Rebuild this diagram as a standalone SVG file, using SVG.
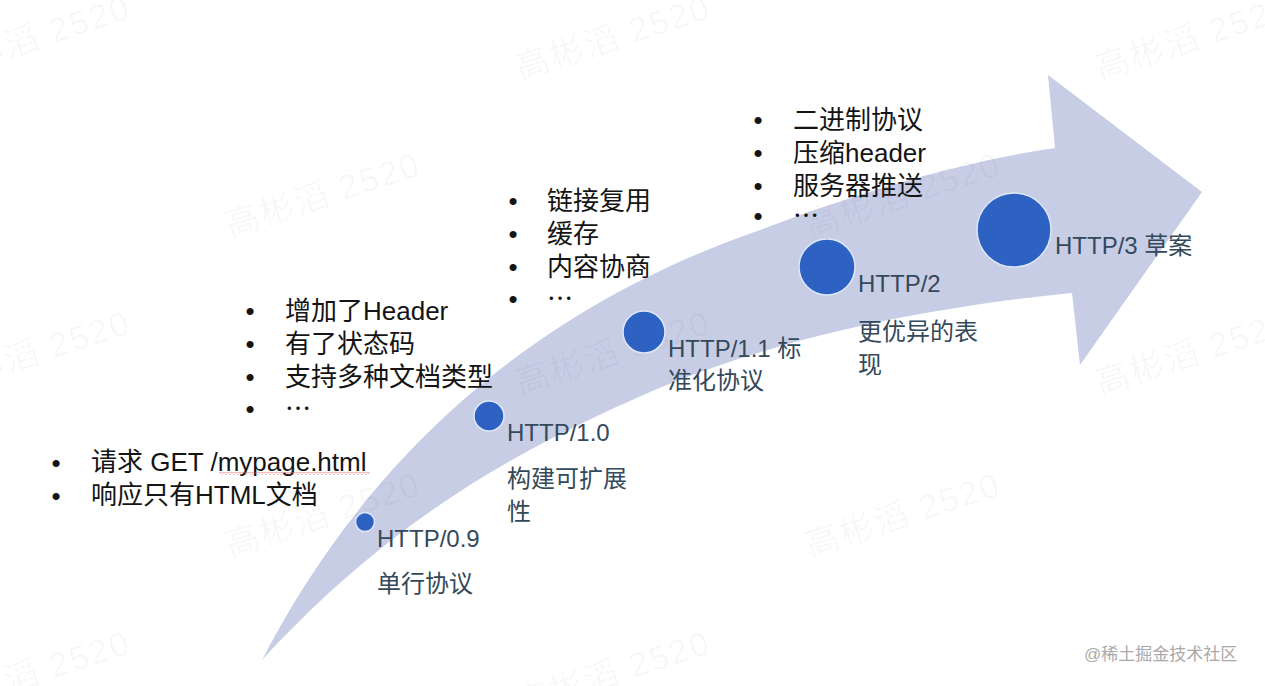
<svg xmlns="http://www.w3.org/2000/svg" width="1265" height="686" viewBox="0 0 1265 686">
  <defs>
    <style>
      text { font-family: "Liberation Sans", "Noto Sans CJK SC", sans-serif; }
      .wm { font-size: 34px; fill: #000; fill-opacity: 0.035; letter-spacing: 2px; }
      .lbl { font-size: 24px; fill: #34495a; }
      .li { font-size: 26px; fill: #141414; }
      .bul { font-size: 26px; fill: #141414; text-anchor: middle; }
      .dot { fill: #2e62c2; stroke: #dce8f8; stroke-width: 1.5; }
      .band { fill: #c8cde6; }
      .credit { font-size: 17px; fill: #a9a9a9; }
    </style>
    <pattern id="squig" width="4" height="3" patternUnits="userSpaceOnUse">
      <path d="M0 2.5 L2 0.5 L4 2.5" fill="none" stroke="#e05a5a" stroke-width="0.8"/>
    </pattern>
  </defs>
  <rect width="1265" height="686" fill="#ffffff"/>

  <g id="connectors">
    <path class="band" d="M262 660 C350 490 500 320 760 230 C860 192 960 162 1055 148 L1048 75 L1202 192 L1080 365 L1072 293 C900 310 760 345 650 392 C530 445 400 510 262 660 Z"/>
  </g>

  <g id="watermarks">
    <text class="wm" transform="translate(-60 80) rotate(-18)">高彬滔 2520</text>
    <text class="wm" transform="translate(520 80) rotate(-18)">高彬滔 2520</text>
    <text class="wm" transform="translate(1100 80) rotate(-18)">高彬滔 2520</text>
    <text class="wm" transform="translate(230 237) rotate(-18)">高彬滔 2520</text>
    <text class="wm" transform="translate(810 237) rotate(-18)">高彬滔 2520</text>
    <text class="wm" transform="translate(-60 395) rotate(-18)">高彬滔 2520</text>
    <text class="wm" transform="translate(520 395) rotate(-18)">高彬滔 2520</text>
    <text class="wm" transform="translate(1100 395) rotate(-18)">高彬滔 2520</text>
    <text class="wm" transform="translate(230 557) rotate(-18)">高彬滔 2520</text>
    <text class="wm" transform="translate(810 557) rotate(-18)">高彬滔 2520</text>
    <text class="wm" transform="translate(-60 715) rotate(-18)">高彬滔 2520</text>
    <text class="wm" transform="translate(520 715) rotate(-18)">高彬滔 2520</text>
  </g>

  <g id="node-http09">
    <circle class="dot" cx="365" cy="522" r="9.5"/>
    <text class="lbl" x="377" y="547">HTTP/0.9</text>
    <text class="lbl" x="377" y="592">单行协议</text>
    <text class="bul" x="56" y="472">•</text>
    <text class="li" x="91" y="471">请求 GET /mypage.html</text>
    <rect x="219" y="472" width="151" height="3" fill="url(#squig)"/>
    <text class="bul" x="56" y="505">•</text>
    <text class="li" x="91" y="504">响应只有HTML文档</text>
  </g>

  <g id="node-http10">
    <circle class="dot" cx="489" cy="416" r="15"/>
    <text class="lbl" x="507" y="441">HTTP/1.0</text>
    <text class="lbl" x="507" y="487">构建可扩展</text>
    <text class="lbl" x="507" y="520">性</text>
    <text class="bul" x="250" y="320">•</text>
    <text class="li" x="285" y="320">增加了Header</text>
    <text class="bul" x="250" y="353">•</text>
    <text class="li" x="285" y="353">有了状态码</text>
    <text class="bul" x="250" y="386">•</text>
    <text class="li" x="285" y="386">支持多种文档类型</text>
    <text class="bul" x="250" y="418">•</text>
    <text class="li" x="285" y="418" style="font-family:'Noto Sans CJK SC',sans-serif">…</text>
  </g>

  <g id="node-http11">
    <circle class="dot" cx="644" cy="332" r="21"/>
    <text class="lbl" x="668" y="357">HTTP/1.1 标</text>
    <text class="lbl" x="668" y="389">准化协议</text>
    <text class="bul" x="513" y="210">•</text>
    <text class="li" x="547" y="210">链接复用</text>
    <text class="bul" x="513" y="243">•</text>
    <text class="li" x="547" y="243">缓存</text>
    <text class="bul" x="513" y="276">•</text>
    <text class="li" x="547" y="276">内容协商</text>
    <text class="bul" x="513" y="308">•</text>
    <text class="li" x="547" y="308" style="font-family:'Noto Sans CJK SC',sans-serif">…</text>
  </g>

  <g id="node-http2">
    <circle class="dot" cx="827" cy="267" r="28"/>
    <text class="lbl" x="858" y="292">HTTP/2</text>
    <text class="lbl" x="858" y="340">更优异的表</text>
    <text class="lbl" x="858" y="373">现</text>
    <text class="bul" x="758" y="129">•</text>
    <text class="li" x="793" y="129">二进制协议</text>
    <text class="bul" x="758" y="162">•</text>
    <text class="li" x="793" y="162">压缩header</text>
    <text class="bul" x="758" y="195">•</text>
    <text class="li" x="793" y="195">服务器推送</text>
    <text class="bul" x="758" y="225">•</text>
    <text class="li" x="793" y="225" style="font-family:'Noto Sans CJK SC',sans-serif">…</text>
  </g>

  <g id="node-http3">
    <circle class="dot" cx="1014" cy="230" r="37"/>
    <text class="lbl" x="1055" y="254">HTTP/3 草案</text>
  </g>

  <text class="credit" x="1084" y="660">@稀土掘金技术社区</text>
</svg>
